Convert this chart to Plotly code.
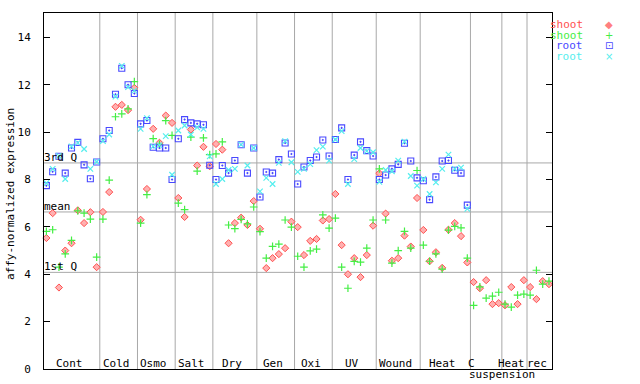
import numpy as np
import plotly.graph_objects as go

nan = np.nan
# ---- data ----
groups = ["Cont", "Cold", "Osmo", "Salt", "Dry", "Gen", "Oxi", "UV", "Wound", "Heat", "C suspension", "Heat", "rec"]
group_sizes = [9, 6, 6, 6, 7, 6, 6, 7, 7, 8, 5, 4, 4]

shoot_rep1 = [5.53, 6.58, 3.44, 5.00, 5.31, 6.70, 6.16, 6.62, 4.30,
              6.63, 7.47, 11.07, 11.15, 10.93, 11.87,
              6.30, 7.60, 10.14, 9.55, 10.70, 10.39,
              7.22, 6.42, 10.11, 8.59, 9.38, 8.56,
              9.50, 9.26, 5.31, 6.16, 6.39, 6.08, 7.09,
              5.92, 4.26, 4.68, 4.85, 5.10, 6.22,
              5.99, 4.81, 5.41, 5.49, 6.27, 6.33,
              7.39, 5.23, 4.00, 4.68, 3.88, 4.81, 6.05,
              8.26, 6.56, 4.57, 4.68, 5.63, 5.17, 7.22,
              5.87, 4.55, 4.93, 4.27, 5.88, 6.16, 5.61, 4.50,
              3.67, 3.41, 3.75, 2.74, 2.78,
              2.69, 3.46, 2.74, 3.75,
              3.46, 2.95, 3.71, 3.58]
shoot_rep2 = [5.81, 5.88, 4.30, 4.86, 5.43, 6.68, 6.58, 6.33, 4.72,
              6.33, 7.97, 10.65, 10.77, 10.98, 12.13,
              6.16, 7.36, 9.73, 9.48, 10.49, 9.86,
              7.00, 6.73, 9.79, 8.35, 9.76, 9.05,
              9.08, 9.59, 6.08, 5.93, 6.32, 6.13, 6.84,
              5.80, 4.68, 5.18, 5.27, 6.29, 5.99,
              4.76, 4.30, 4.99, 5.06, 6.51, 5.95,
              6.37, 4.30, 3.41, 4.54, 4.51, 5.10, 6.29,
              8.45, 6.29, 4.47, 5.00, 5.81, 5.10, 8.38,
              5.23, 4.55, 4.86, 4.22, 5.86, 6.02, 5.96, 4.68,
              2.69, 3.47, 2.99, 3.08, 3.24,
              2.74, 2.61, 3.12, 3.16,
              3.12, 4.17, 3.58, 3.71]
root_rep1 = [7.74, 8.33, 8.98, 8.27, 9.33, 9.57, 8.62, 8.03, 8.74,
             9.72, 10.07, 11.60, 12.70, 12.00, 11.63,
             10.35, 10.49, 9.36, 9.33, 9.33, 8.00,
             9.72, 10.53, 10.39, 10.35, 10.31, 8.60,
             8.00, 8.59, 8.27, 8.80, 9.47, 8.27, 9.33,
             7.26, 8.32, 8.27, 8.84, 9.54, 9.08,
             7.81, 8.53, 8.80, 8.95, 9.67, 8.99,
             9.69, 10.18, 8.00, 9.03, 9.59, 9.22, 8.99,
             8.00, 8.19, 8.45, 8.64, 9.53, 8.78, 8.07,
             7.95, 7.15, 8.11, 8.78, 8.80, 8.39, 8.27, 6.92,
             nan, nan, nan, nan, nan,
             nan, nan, nan, nan,
             nan, nan, nan, nan]
root_rep2 = [7.85, 8.45, 9.00, 8.02, 9.40, 9.55, 9.29, 8.45, 8.75,
             9.62, 9.90, 11.50, 12.80, 11.90, 11.75,
             10.14, 10.59, 9.40, 9.45, 9.83, 8.20,
             10.07, 10.28, 9.90, 10.20, 10.14, 8.98,
             7.81, 8.02, 8.40, 8.45, 9.47, 8.59, 9.33,
             7.50, 8.07, 7.81, 8.70, 9.62, 8.73,
             8.32, 8.45, 8.65, 9.24, 9.39, 8.80,
             9.69, 10.04, 7.81, 8.86, 9.33, 9.20, 9.15,
             7.90, 8.40, 8.35, 8.80, 9.60, 8.15, 7.74,
             8.02, 7.39, 7.88, 8.45, 9.05, 8.45, 8.50, 6.76,
             nan, nan, nan, nan, nan,
             nan, nan, nan, nan,
             nan, nan, nan, nan]

quartile_names = ["3rd Q", "mean", "1st Q"]
quartile_values = [8.70, 6.63, 4.08]

y_ticks = [0, 2, 4, 6, 8, 10, 12, 14]

# ---- styling ----
FONT = "DejaVu Sans Mono"
RED, GREEN, BLUE, CYAN = "#ff5050", "#44ee44", "#4848ff", "#55eeee"
GREY = "#a8a8a8"

n = len(shoot_rep1)
x = np.arange(n)
bounds = np.cumsum(group_sizes)
starts = np.concatenate([[0], bounds[:-1]])
centers = (starts + bounds - 1) / 2.0
separators = bounds[:-1] - 0.5

fig = go.Figure()

for s in separators:
    fig.add_shape(type="line", x0=s, x1=s, y0=0, y1=1, xref="x", yref="paper",
                  line=dict(color=GREY, width=1), layer="below")
for v in quartile_values:
    fig.add_shape(type="line", x0=0, x1=1, y0=v, y1=v, xref="paper", yref="y",
                  line=dict(color=GREY, width=1), layer="below")

series = [
    ("shoot", shoot_rep1, dict(symbol="diamond", size=5.5, color="#ffb0b0", line=dict(color=RED, width=1))),
    ("shoot", shoot_rep2, dict(symbol="cross-thin-open", size=5.5, color=GREEN, line=dict(color=GREEN, width=1.2))),
    ("root", root_rep1, dict(symbol="square-open-dot", size=6, color=BLUE, line=dict(color=BLUE, width=1.1))),
    ("root", root_rep2, dict(symbol="x-thin-open", size=5.5, color=CYAN, line=dict(color=CYAN, width=1.2))),
]
for name, vals, mk in series:
    fig.add_trace(go.Scatter(x=x, y=vals, mode="markers", name=name, marker=mk,
                             showlegend=False, cliponaxis=False, hoverinfo="skip"))

annotations = []
lab_font = dict(family=FONT, size=11, color="black")
for g, c in zip(groups, centers):
    if g == "C suspension":
        annotations.append(dict(x=c - 2.35, y=0.0149, xref="x", yref="paper", text="C",
                                showarrow=False, font=lab_font, xanchor="center", yanchor="middle"))
        annotations.append(dict(x=c + 2.45, y=-0.0155, xref="x", yref="paper", text="suspension",
                                showarrow=False, font=lab_font, xanchor="center", yanchor="middle"))
    else:
        annotations.append(dict(x=c - 0.4, y=0.0149, xref="x", yref="paper", text=g,
                                showarrow=False, font=lab_font, xanchor="center", yanchor="middle"))
for nm, v in zip(quartile_names, quartile_values):
    annotations.append(dict(x=0, y=v, xref="paper", yref="y", text=nm, showarrow=False,
                            font=lab_font, xanchor="left", yanchor="bottom", xshift=-2, yshift=-3))
annotations.append(dict(x=-0.0646, y=0.492, xref="paper", yref="paper",
                        text="affy-normalized expression", textangle=-90, showarrow=False,
                        font=lab_font, xanchor="center", yanchor="middle"))
leg_rows = [("shoot", RED, "\u25c6", "#ff8080"), ("shoot", GREEN, "+", GREEN),
            ("root", BLUE, "\u22a1", BLUE), ("root", CYAN, "\u00d7", CYAN)]
leg_y = [0.969, 0.938, 0.908, 0.877]
for (txt, col, sym, scol), ly in zip(leg_rows, leg_y):
    annotations.append(dict(x=1.0644, y=ly, xref="paper", yref="paper", text=txt, showarrow=False,
                            font=dict(family=FONT, size=11, color=col), xanchor="right", yanchor="middle"))
    annotations.append(dict(x=1.1116, y=ly, xref="paper", yref="paper", text=sym, showarrow=False,
                            font=dict(family="DejaVu Sans", size=10, color=scol), xanchor="center", yanchor="middle"))

fig.update_layout(
    width=640, height=384,
    margin=dict(l=44, r=88, t=13, b=15, autoexpand=False),
    paper_bgcolor="white", plot_bgcolor="white",
    font=dict(family=FONT, size=11, color="black"),
    annotations=annotations,
    showlegend=False,
    hovermode=False,
)
fig.update_xaxes(range=[-0.38, 80.48], showgrid=False, zeroline=False, showticklabels=False,
                 ticks="", showline=True, linecolor="black", linewidth=1, mirror=True, automargin=False)
fig.update_yaxes(range=[0, 15.03], tickvals=y_ticks, showgrid=False, zeroline=False,
                 ticks="inside", ticklen=6, tickcolor="black", showline=True, linecolor="black",
                 linewidth=1, mirror="ticks", ticklabelstandoff=10, automargin=False,
                 tickfont=dict(family=FONT, size=11, color="black"))

fig.write_html("out.html", config={"displayModeBar": False, "staticPlot": True},
               post_script="document.body.style.margin='0px';document.body.style.overflow='hidden';")
